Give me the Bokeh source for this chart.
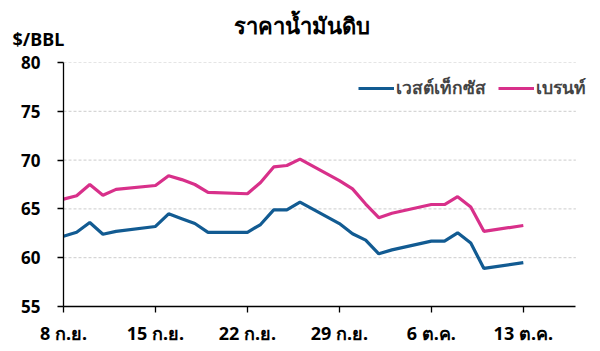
import pandas as pd
from bokeh.plotting import figure
from bokeh.models import (ColumnDataSource, FixedTicker, Range1d, Title, Legend, LegendItem)
from bokeh.embed import file_html
from bokeh.resources import INLINE

dates = ["2025-09-08", "2025-09-09", "2025-09-10", "2025-09-11", "2025-09-12",
         "2025-09-15", "2025-09-16", "2025-09-17", "2025-09-18", "2025-09-19",
         "2025-09-22", "2025-09-23", "2025-09-24", "2025-09-25", "2025-09-26",
         "2025-09-29", "2025-09-30", "2025-10-01", "2025-10-02", "2025-10-03",
         "2025-10-06", "2025-10-07", "2025-10-08", "2025-10-09", "2025-10-10",
         "2025-10-13"]
wti = [62.2, 62.6, 63.6, 62.4, 62.7,
       63.2, 64.5, 64.0, 63.5, 62.6,
       62.6, 63.4, 64.9, 64.9, 65.7,
       63.5, 62.45, 61.8, 60.4, 60.8,
       61.7, 61.7, 62.55, 61.5, 58.9,
       59.5]
brent = [66.0, 66.35, 67.5, 66.4, 67.0,
         67.4, 68.4, 68.0, 67.5, 66.7,
         66.55, 67.7, 69.3, 69.45, 70.1,
         67.9, 67.05, 65.5, 64.1, 64.55,
         65.45, 65.45, 66.25, 65.2, 62.7,
         63.3]
tick_dates = ["2025-09-08", "2025-09-15", "2025-09-22", "2025-09-29", "2025-10-06", "2025-10-13"]
tick_labels = ["8 ก.ย.", "15 ก.ย.", "22 ก.ย.", "29 ก.ย.", "6 ต.ค.", "13 ต.ค."]
y_ticks = [55, 60, 65, 70, 75, 80]
series_names = ["เวสต์เท็กซัส", "เบรนท์"]
title_text = "ราคาน้ำมันดิบ"
unit_text = "$/BBL"
axis_start, axis_end, view_end = "2025-09-08", "2025-10-17", "2025-10-18 21:00"

FONT = "Noto Sans"
x = pd.to_datetime(dates)
src = ColumnDataSource(dict(x=x, wti=wti, brent=brent))

def ms(d):
    return pd.Timestamp(d).value / 1e6

p = figure(width=600, height=351, x_axis_type="datetime", output_backend="svg",
           toolbar_location=None, title=None,
           x_range=Range1d(ms(axis_start), ms(view_end)),
           y_range=Range1d(55, 80),
           min_border_left=63, min_border_right=0, min_border_top=62, min_border_bottom=45)
p.outline_line_color = None
p.background_fill_color = "white"

# dashed horizontal gridlines, limited to the x-axis extent
grid_src = ColumnDataSource(dict(x0=[ms(axis_start)] * (len(y_ticks) - 1),
                                 x1=[ms(axis_end)] * (len(y_ticks) - 1),
                                 y=y_ticks[1:]))
p.segment(x0="x0", x1="x1", y0="y", y1="y", source=grid_src,
          line_color="#cccccc", line_width=1, line_dash="3 2")

l1 = p.line("x", "wti", source=src, line_color="#125b92", line_width=3.2)
l2 = p.line("x", "brent", source=src, line_color="#d8308a", line_width=3.2)

tick_ms = [ms(d) for d in tick_dates]
p.xaxis.ticker = FixedTicker(ticks=tick_ms)
p.xaxis.major_label_overrides = {t: lab for t, lab in zip(tick_ms, tick_labels)}
p.xaxis.bounds = (ms(axis_start), ms(axis_end))
p.yaxis.ticker = FixedTicker(ticks=y_ticks)

for ax in (p.xaxis, p.yaxis):
    ax.axis_line_color = "black"
    ax.axis_line_width = 1.3
    ax.major_tick_line_color = "black"
    ax.major_tick_line_width = 1.3
    ax.major_tick_in = 0
    ax.major_tick_out = 6
    ax.minor_tick_line_color = None
    ax.major_label_text_font = FONT
    ax.major_label_text_font_style = "bold"
    ax.major_label_text_font_size = "17px"
    ax.major_label_text_color = "black"
p.xaxis.major_label_text_font_size = "18px"
p.xaxis.major_label_standoff = 8
p.yaxis.major_label_standoff = 17

p.xgrid.grid_line_color = None
p.ygrid.grid_line_color = None

legend = Legend(items=[LegendItem(label=series_names[0], renderers=[l1]),
                       LegendItem(label=series_names[1], renderers=[l2])],
                orientation="horizontal", location=(295, 204),
                border_line_color=None, background_fill_alpha=0,
                label_text_font=FONT, label_text_font_style="bold",
                label_text_font_size="17.5px", glyph_width=36, glyph_height=14,
                spacing=12, label_standoff=2, padding=0, margin=0)
p.add_layout(legend, "center")

unit_title = Title(text=unit_text, align="left", offset=-51, standoff=24,
                   vertical_align="bottom",
                   text_font=FONT, text_font_style="bold", text_font_size="18px",
                   text_color="black")
main_title = Title(text=title_text, align="left", offset=170, standoff=-54,
                   vertical_align="bottom",
                   text_font=FONT, text_font_style="bold", text_font_size="22px",
                   text_color="black")
p.add_layout(unit_title, "above")
p.add_layout(main_title, "above")

open("out.html", "w").write(file_html(p, INLINE))
